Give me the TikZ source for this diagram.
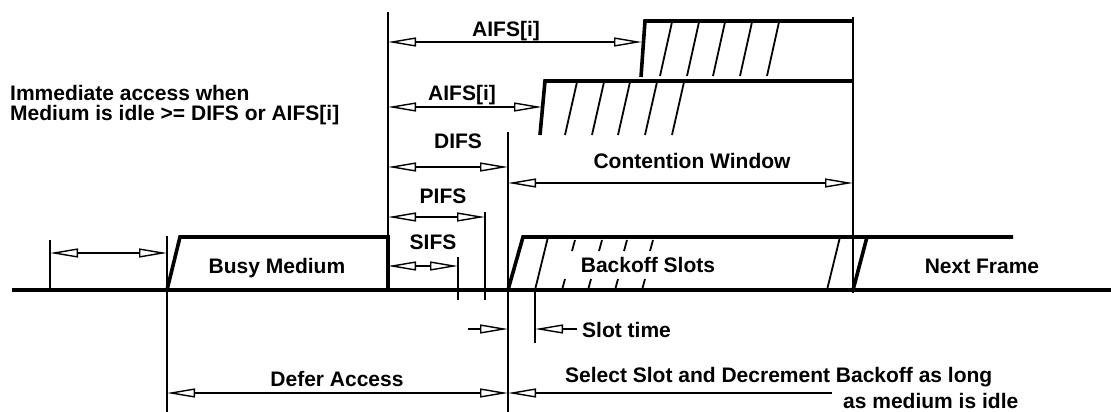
\documentclass[tikz,border=0pt]{standalone}
\usepackage{fontspec}
\setmainfont{Liberation Sans}
\usetikzlibrary{arrows.meta}
\tikzset{
  thn/.style={line width=1.8pt},
  thk/.style={line width=3.6pt, line join=miter},
  opentip/.tip={Triangle[open,length=28pt,width=9pt,line width=1.4pt]},
  ar/.style={line width=1.6pt,-opentip},
  dar/.style={line width=1.6pt,opentip-opentip},
  lbl/.style={font=\fontsize{21}{20}\selectfont\bfseries, inner sep=0pt},
}
\begin{document}
\begin{tikzpicture}[x=1pt,y=-1pt]
\useasboundingbox (0,0) rectangle (1111,412);

% medium line
\coordinate (L0) at (12,290);
\coordinate (L1) at (1111,290);
\draw[thk] (L0) -- (L1);

% vertical markers
\coordinate (vAt) at (50,240);  \coordinate (vAb) at (50,290);
\coordinate (vBt) at (167,236); \coordinate (vBb) at (167,412);
\coordinate (vCt) at (388,12);  \coordinate (vCb) at (388,290);
\coordinate (vDt) at (458,257); \coordinate (vDb) at (458,300);
\coordinate (vEt) at (485,212); \coordinate (vEb) at (485,300);
\coordinate (vFt) at (508,132); \coordinate (vFb) at (508,412);
\coordinate (vGt) at (535,290); \coordinate (vGb) at (535,343);
\coordinate (vHt) at (853,17);  \coordinate (vHb) at (853,293);
\foreach \v in {vA,vB,vC,vD,vE,vF,vG,vH}
  \draw[thn] (\v t) -- (\v b);

% busy medium
\coordinate (b0) at (167,290); \coordinate (b1) at (180,237);
\coordinate (b2) at (388,237); \coordinate (b3) at (388,290);
\draw[thk] (b0) -- (b1) -- (b2) -- (b3);
\node[lbl, anchor=base] (busy) at (277,273) {Busy Medium};

% stair 1 (top AIFS)
\coordinate (s10) at (641,77); \coordinate (s11) at (645,21); \coordinate (s12) at (853,21);
\draw[thk] (s10) -- (s11) -- (s12);
\foreach \x in {660,687,713,740,767} \draw[thn] (\x,76) -- ++(12,-54);

% stair 2
\coordinate (s20) at (540,135); \coordinate (s21) at (545,81); \coordinate (s22) at (853,81);
\draw[thk] (s20) -- (s21) -- (s22);
\foreach \x in {565,592,618,645,672} \draw[thn] (\x,135) -- ++(12,-53);

% backoff slots
\coordinate (k0) at (508,290); \coordinate (k1) at (523,237); \coordinate (k2) at (1013,237);
\draw[thk] (k0) -- (k1) -- (k2);
\draw[thn] (535,290) -- (548,237);
\draw[thn] (827,290) -- (840,237);
\foreach \x in {575,602,627,653} \draw[thn] (\x,240) -- ++(-3,11);
\foreach \x in {562,588,615,642} \draw[thn] (\x,290) -- ++(3,-11);
\node[lbl, anchor=base] (backoff) at (648,272) {Backoff Slots};

% next frame
\coordinate (n0) at (853,290); \coordinate (n1) at (867,237);
\draw[thk] (n0) -- (n1);
\node[lbl, anchor=base] (next) at (982,273) {Next Frame};

% arrows
\coordinate (a1l) at (50,253);  \coordinate (a1r) at (167,253);
\draw[dar] (a1l) -- (a1r);

\coordinate (a2l) at (388,42);  \coordinate (a2r) at (642,42);
\draw[dar] (a2l) -- (a2r);
\node[lbl, anchor=base] (aifs1) at (506,37) {AIFS[i]};

\coordinate (a3l) at (388,107); \coordinate (a3r) at (542,107);
\draw[dar] (a3l) -- (a3r);
\node[lbl, anchor=base] (aifs2) at (462,100) {AIFS[i]};

\coordinate (a4l) at (388,167); \coordinate (a4r) at (508,167);
\draw[dar] (a4l) -- (a4r);
\node[lbl, anchor=base] (difs) at (458,148) {DIFS};

\coordinate (a5l) at (508,183); \coordinate (a5r) at (853,183);
\draw[dar] (a5l) -- (a5r);
\node[lbl, anchor=base] (cw) at (692,168) {Contention Window};

\coordinate (a6l) at (388,217); \coordinate (a6r) at (485,217);
\draw[dar] (a6l) -- (a6r);
\node[lbl, anchor=base] (pifs) at (443,203) {PIFS};

\coordinate (a7l) at (388,266); \coordinate (a7r) at (458,266);
\draw[dar] (a7l) -- (a7r);
\node[lbl, anchor=base] (sifs) at (433,249) {SIFS};

% slot time
\coordinate (st0) at (468,329); \coordinate (st1) at (508,329);
\coordinate (st2) at (577,329); \coordinate (st3) at (535,329);
\draw[ar] (st0) -- (st1);
\draw[ar] (st2) -- (st3);
\node[lbl, anchor=base west] (slot) at (582,337) {Slot time};

% defer access / select slot
\coordinate (d0) at (167,393); \coordinate (d1) at (508,393); \coordinate (d2) at (832,393);
\draw[dar] (d0) -- (d1);
\draw[ar] (d2) -- (d1);
\node[lbl, anchor=base] (defer) at (337,386) {Defer Access};
\node[lbl, anchor=base west] (sel1) at (565,382) {Select Slot and Decrement Backoff as long};
\node[lbl, anchor=base west] (sel2) at (843,408) {as medium is idle};

% immediate access
\node[lbl, anchor=north west, align=left] (imm) at (10,85.5)
  {Immediate access when\\Medium is idle >= DIFS or AIFS[i]};
\end{tikzpicture}
\end{document}
